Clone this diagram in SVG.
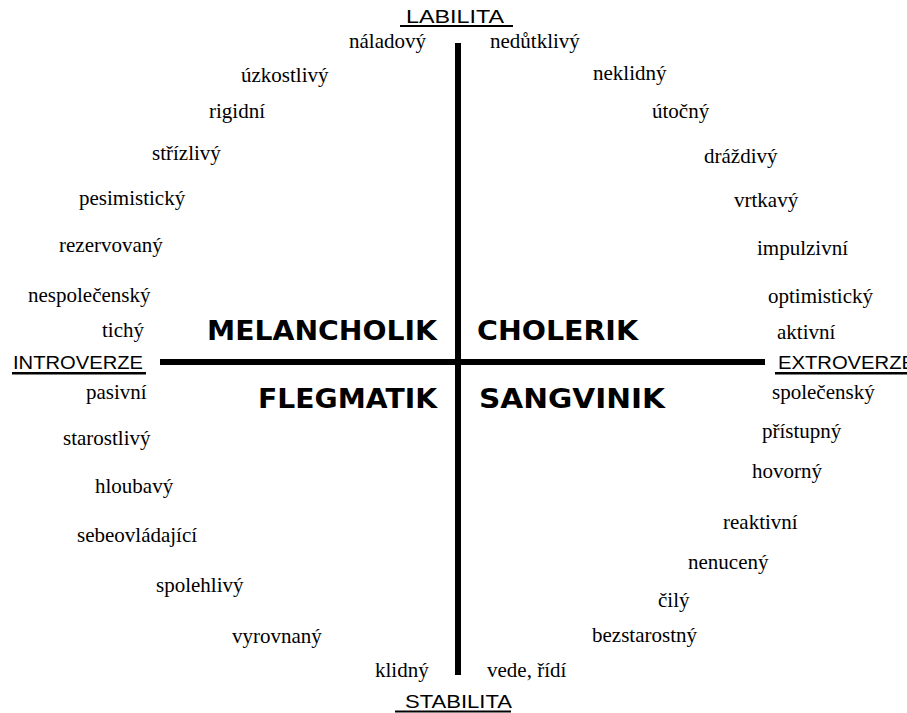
<svg xmlns="http://www.w3.org/2000/svg" width="907" height="713" viewBox="0 0 907 713">
<style>
.w{font-family:'Liberation Serif','Times New Roman',Times,'DejaVu Serif',serif;font-size:21px;fill:#000}
.ax{font-family:'Liberation Sans',Arial,sans-serif;font-size:18px;fill:#000}
.t{font-family:'DejaVu Sans',Verdana,sans-serif;font-weight:bold;font-size:26px;fill:#000}
.ul{fill:#000}
.axis{fill:#000}
</style>
<rect width="907" height="713" fill="#fff"/>
<g id="connectors">
<rect class="axis" x="455" y="43" width="6" height="632"/>
<rect class="axis" x="160" y="359" width="605" height="6"/>
</g>
<g id="labilita"><text class="ax" x="406" y="23" textLength="98" lengthAdjust="spacingAndGlyphs">LABILITA</text><rect class="ul" x="400" y="25" width="113" height="2"/></g>
<g id="stabilita"><text class="ax" x="405" y="708" textLength="107" lengthAdjust="spacingAndGlyphs">STABILITA</text><rect class="ul" x="395" y="710.5" width="116" height="2"/></g>
<g id="introverze"><text class="ax" x="13" y="369" textLength="130" lengthAdjust="spacingAndGlyphs">INTROVERZE</text><rect class="ul" x="12" y="372" width="134" height="2.5"/></g>
<g id="extroverze"><text class="ax" x="778" y="369" textLength="137" lengthAdjust="spacingAndGlyphs">EXTROVERZE</text><rect class="ul" x="775" y="372" width="140" height="2.5"/></g>
<g id="melancholik"><text class="t" x="207" y="340" textLength="230" lengthAdjust="spacingAndGlyphs">MELANCHOLIK</text></g>
<g id="cholerik"><text class="t" x="477" y="340" textLength="161" lengthAdjust="spacingAndGlyphs">CHOLERIK</text></g>
<g id="flegmatik"><text class="t" x="258" y="408" textLength="179" lengthAdjust="spacingAndGlyphs">FLEGMATIK</text></g>
<g id="sangvinik"><text class="t" x="479" y="408" textLength="186" lengthAdjust="spacingAndGlyphs">SANGVINIK</text></g>
<g id="words-melancholik" font-family="Liberation Serif, serif">
<text class="w" x="349" y="48">náladový</text>
<text class="w" x="241" y="82">úzkostlivý</text>
<text class="w" x="209" y="118">rigidní</text>
<text class="w" x="152" y="160">střízlivý</text>
<text class="w" x="79" y="205">pesimistický</text>
<text class="w" x="59" y="252">rezervovaný</text>
<text class="w" x="28" y="302">nespolečenský</text>
<text class="w" x="102" y="337">tichý</text>
</g>
<g id="words-cholerik" font-family="Liberation Serif, serif">
<text class="w" x="490" y="48">nedůtklivý</text>
<text class="w" x="593" y="80">neklidný</text>
<text class="w" x="652" y="118">útočný</text>
<text class="w" x="704" y="163">dráždivý</text>
<text class="w" x="734" y="207">vrtkavý</text>
<text class="w" x="757" y="255">impulzivní</text>
<text class="w" x="768" y="303">optimistický</text>
<text class="w" x="777" y="339">aktivní</text>
</g>
<g id="words-flegmatik" font-family="Liberation Serif, serif">
<text class="w" x="86" y="399">pasivní</text>
<text class="w" x="63" y="445">starostlivý</text>
<text class="w" x="95" y="493">hloubavý</text>
<text class="w" x="77" y="542">sebeovládající</text>
<text class="w" x="156" y="592">spolehlivý</text>
<text class="w" x="232" y="643">vyrovnaný</text>
<text class="w" x="375" y="677">klidný</text>
</g>
<g id="words-sangvinik" font-family="Liberation Serif, serif">
<text class="w" x="772" y="399">společenský</text>
<text class="w" x="762" y="438">přístupný</text>
<text class="w" x="752" y="478">hovorný</text>
<text class="w" x="723" y="529">reaktivní</text>
<text class="w" x="688" y="569">nenucený</text>
<text class="w" x="658" y="607">čilý</text>
<text class="w" x="592" y="642">bezstarostný</text>
<text class="w" x="487" y="677">vede, řídí</text>
</g>
</svg>
